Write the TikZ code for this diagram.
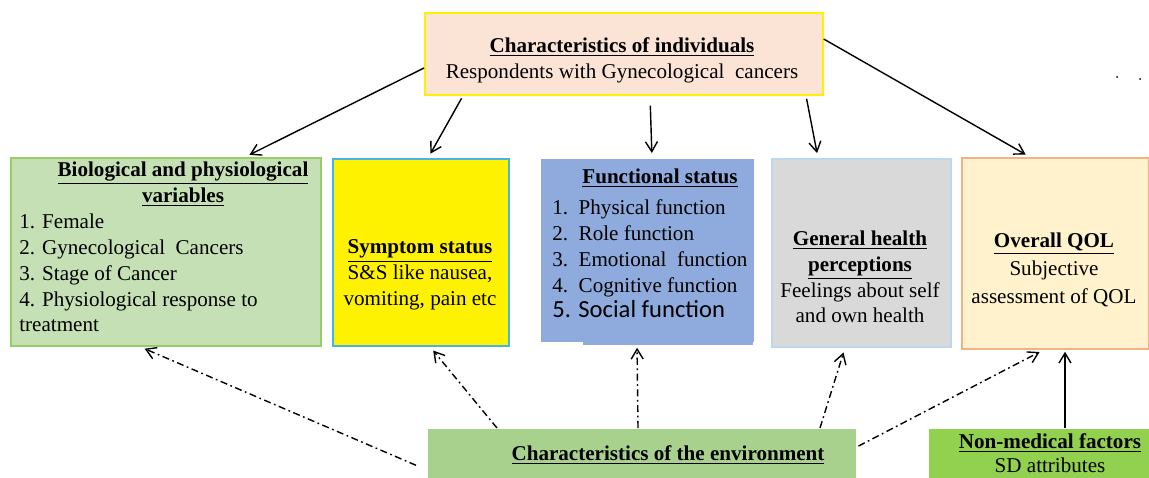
\documentclass[tikz,border=0pt]{standalone}
\usepackage{fontspec}
\setmainfont{Liberation Serif}
\newfontfamily\calfont{Carlito}
\usetikzlibrary{arrows.meta}

\definecolor{peach}{RGB}{251,228,214}
\definecolor{biogreen}{RGB}{197,224,180}
\definecolor{bioborder}{RGB}{150,205,100}
\definecolor{symborder}{RGB}{70,180,230}
\definecolor{funblue}{RGB}{143,170,220}
\definecolor{gengray}{RGB}{217,217,217}
\definecolor{genborder}{RGB}{190,215,240}
\definecolor{qolfill}{RGB}{255,242,204}
\definecolor{qolborder}{RGB}{244,177,131}
\definecolor{envgreen}{RGB}{169,209,142}
\definecolor{nmfgreen}{RGB}{146,208,80}

\newcommand{\hd}[1]{\textbf{\underline{#1}}}

\begin{document}
\begin{tikzpicture}[x=0.02cm,y=-0.02cm,
  box/.style={anchor=north west,inner sep=0pt,line width=1pt},
  txt/.style={font=\fontsize{12}{14.7}\selectfont,inner sep=0pt,align=center},
  arr/.style={-{Straight Barb[length=2mm,width=2.4mm]},line width=0.8pt,shorten >=0.1cm},
  envarr/.style={arr,dash pattern=on 4pt off 2pt on 1pt off 2pt}]
\useasboundingbox (0,0) rectangle (1149,477);

% characteristics of individuals
\node[box,draw=yellow,fill=peach,minimum width=7.96cm,minimum height=1.64cm] (ind) at (424,12) {};
\node[txt] (indt) at (622,60) {\hd{Characteristics of individuals}\\Respondents with Gynecological\ \ cancers};
\fill (1117,77) circle (1);
\fill (1140,79) circle (1);

% biological and physiological variables
\node[box,draw=bioborder,fill=biogreen,minimum width=6.2cm,minimum height=3.76cm] (bio) at (10,157) {};
\node[txt] (biot) at (183,184) {\hd{Biological and physiological}\\\hd{variables}};
\node[txt,anchor=west,align=left] (bioi) at (19,273) {1. Female\\2. Gynecological\ \ Cancers\\3. Stage of Cancer\\4. Physiological response to\\treatment};

% symptom status
\node[box,draw=symborder,fill=yellow,minimum width=3.52cm,minimum height=3.74cm] (sym) at (332,158) {};
\node[txt] (symt) at (420,275) {\hd{Symptom status}\\S\&S like nausea,\\vomiting, pain etc};

% functional status
\node[box,fill=funblue,minimum width=4.26cm,minimum height=3.66cm] (fun) at (540,158) {};
\fill[funblue] (583,340) rectangle (753,345);
\node[txt] (funt) at (660,178) {\hd{Functional status}};
\node[txt,anchor=west,align=left] (funi) at (552,259) {1.\ \ Physical function\\2.\ \ Role function\\3.\ \ Emotional\ \ function\\4.\ \ Cognitive function\\{\calfont\fontsize{14}{14.7}\selectfont 5. Social function}};

% general health perceptions
\node[box,draw=genborder,fill=gengray,minimum width=3.58cm,minimum height=3.76cm] (gen) at (771,158) {};
\node[txt] (gent) at (860,277) {\hd{General health}\\\hd{perceptions}\\Feelings about self\\and own health};

% overall QOL
\node[box,draw=qolborder,fill=qolfill,minimum width=3.74cm,minimum height=3.82cm] (qol) at (961,157) {};
\node[txt,font=\fontsize{12}{15.8}\selectfont] (qolt) at (1054,270) {\hd{Overall QOL}\\Subjective\\assessment of QOL};

% characteristics of the environment
\node[box,fill=envgreen,minimum width=8.56cm,minimum height=1.4cm] (env) at (427,428) {};
\node[txt] (envt) at (668,455) {\hd{Characteristics of the environment}};

% non-medical factors
\node[box,fill=nmfgreen,minimum width=4.42cm,minimum height=1.4cm] (nmf) at (928,428) {};
\node[txt,font=\fontsize{12}{13.5}\selectfont] (nmft) at (1050,453) {\hd{Non-medical factors}\\SD attributes};

% individuals -> domains
\draw[arr] (ind.west |- 0,68) -- (245,0 |- bio.north);
\draw[arr,shorten <=0.06cm] (463,0 |- ind.south) -- (428,0 |- sym.north);
\draw[arr,shorten <=0.2cm] (650,0 |- ind.south) -- (652,0 |- fun.north);
\draw[arr,shorten <=0.06cm] (806,0 |- ind.south) -- (818,0 |- gen.north);
\draw[arr] (ind.east |- 0,39) -- (1030,0 |- qol.north);

% environment -> domains
\draw[envarr,shorten <=0.24cm] (env.west |- 0,470) -- (140,0 |- bio.south);
\draw[envarr] (497,0 |- env.north) -- (430,0 |- sym.south);
\draw[envarr] (638,0 |- env.north) -- (637,0 |- fun.south);
\draw[envarr] (820,0 |- env.north) -- (845,0 |- gen.south);
\draw[envarr,shorten <=0.04cm] (env.east |- 0,447) -- (1044,0 |- qol.south);

% non-medical factors -> overall QOL
\draw[arr,shorten >=0.04cm] (nmf.north -| 1065,0) -- (1065,0 |- qol.south);
\end{tikzpicture}
\end{document}
